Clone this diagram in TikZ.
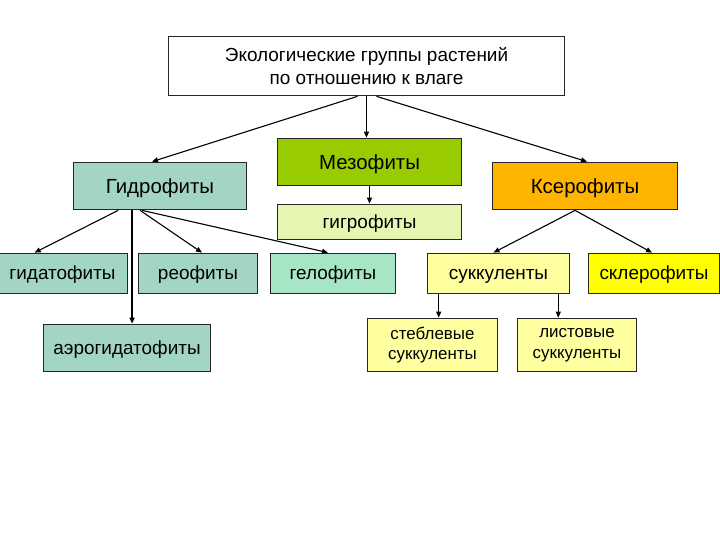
\documentclass[tikz,border=0pt]{standalone}
\usepackage{fontspec}
\setmainfont{Liberation Sans}
\usetikzlibrary{arrows.meta}

\definecolor{hydrocol}{RGB}{163,213,198}
\definecolor{helocol}{RGB}{166,230,196}
\definecolor{mesocol}{RGB}{153,204,0}
\definecolor{hygrocol}{RGB}{230,245,178}
\definecolor{xerocol}{RGB}{255,180,0}
\definecolor{succcol}{RGB}{255,255,160}
\definecolor{sclerocol}{RGB}{255,255,0}

\begin{document}
\begin{tikzpicture}[x=1bp,y=-1bp,
  box/.style={draw=black!85,line width=0.9bp,inner sep=0pt,align=center},
  one/.style={text height=16bp,text depth=3bp},
  big/.style={text height=19bp,text depth=4bp,font=\fontsize{20.5}{24}\selectfont},
  mid/.style={font=\fontsize{19}{23}\selectfont},
  small/.style={font=\fontsize{17}{20.5}\selectfont},
  link/.style={->,line width=1.1bp},
  >={Triangle[length=6bp,width=5bp]}]
\useasboundingbox (0,0) rectangle (720,540);

\node [box,mid,fill=white,minimum width=397,minimum height=60]        (title)   at (366.5, 66)  {Экологические группы растений\\ по отношению к влаге};
\node [box,big,fill=hydrocol,minimum width=174,minimum height=48]     (hydro)   at (160, 186)   {Гидрофиты};
\node [box,big,fill=mesocol,minimum width=185,minimum height=48]      (meso)    at (369.5, 162) {Мезофиты};
\node [box,mid,one,fill=hygrocol,minimum width=185,minimum height=36] (hygro)   at (369.5, 222) {гигрофиты};
\node [box,big,fill=xerocol,minimum width=186,minimum height=48]      (xero)    at (585, 186)   {Ксерофиты};
\node [box,mid,one,fill=hydrocol,minimum width=131,minimum height=41] (hydat)   at (62.5, 273.5) {гидатофиты};
\node [box,mid,one,fill=hydrocol,minimum width=120,minimum height=41] (rheo)    at (198, 273.5) {реофиты};
\node [box,mid,one,fill=helocol,minimum width=126,minimum height=41]  (helo)    at (333, 273.5) {гелофиты};
\node [box,mid,one,fill=succcol,minimum width=143,minimum height=41]  (succ)    at (498.5, 273.5) {суккуленты};
\node [box,mid,one,fill=sclerocol,minimum width=132,minimum height=41] (sclero) at (654, 273.5) {склерофиты};
\node [box,mid,one,fill=hydrocol,minimum width=168,minimum height=48] (aerohyd) at (127, 348)   {аэрогидатофиты};
\node [box,small,fill=succcol,minimum width=131,minimum height=54]    (stem)    at (432.5, 345) {стеблевые\\ суккуленты};
\node [box,small,fill=succcol,minimum width=120,minimum height=54]    (leaf)    at (577, 345)   {листовые\\ суккуленты};

\draw [link] ([xshift=-9]title.south) -- ([xshift=-8]hydro.north);
\draw [link] (title.south) -- (title.south |- meso.north);
\draw [link] ([xshift=10]title.south) -- ([xshift=2]xero.north);
\draw [link] (meso.south) -- (hygro.north);

\draw [link] ([xshift=-42]hydro.south) -- ([xshift=-28]hydat.north);
\draw [link,line width=1.8bp] ([xshift=-28]hydro.south) -- ([xshift=-28]hydro.south |- aerohyd.north);
\draw [link] ([xshift=-20]hydro.south) -- ([xshift=4]rheo.north);
\draw [link] ([xshift=-18]hydro.south) -- ([xshift=-5]helo.north);

\draw [link] ([xshift=-10]xero.south) -- ([xshift=-5]succ.north);
\draw [link] ([xshift=-10]xero.south) -- ([xshift=-2]sclero.north);
\draw [link] ([xshift=-60]succ.south) -- ([xshift=-60]succ.south |- stem.north);
\draw [link] ([xshift=60]succ.south) -- ([xshift=60]succ.south |- leaf.north);
\end{tikzpicture}
\end{document}
